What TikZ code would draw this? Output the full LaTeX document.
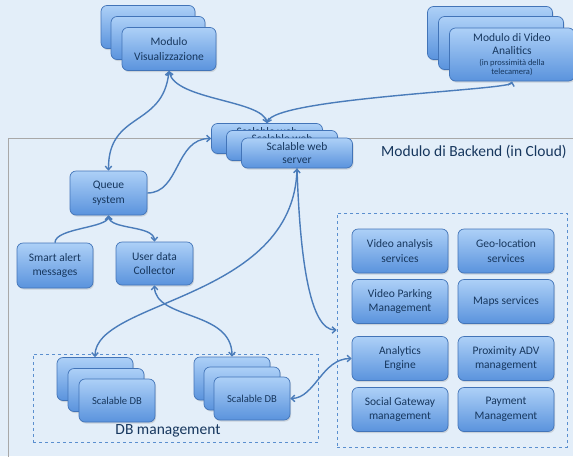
\documentclass[tikz,border=0pt]{standalone}
\usepackage{fontspec}
\setmainfont{Carlito}
\usetikzlibrary{arrows.meta,shadows}
\definecolor{bg}{HTML}{E3EEF9}
\definecolor{btop}{HTML}{ADD0F7}
\definecolor{bbot}{HTML}{5A93DD}
\definecolor{bord}{HTML}{4274B8}
\definecolor{navy}{HTML}{17375E}
\definecolor{conn}{HTML}{4A7CBA}
\definecolor{dashc}{HTML}{5B8FCF}
\definecolor{frame}{HTML}{A8A8A8}
\tikzset{
  box/.style={draw=bord, line width=0.7pt, rounded corners=6pt, top color=btop, bottom color=bbot,
    text=navy, align=center, font=\fontsize{11.5}{14.5}\selectfont, inner sep=1pt,
    drop shadow={opacity=0.25, shadow xshift=1pt, shadow yshift=-1.5pt}},
  vis/.style={box, minimum width=94pt, minimum height=43pt},
  va/.style={box, minimum width=125pt, minimum height=53pt},
  ws/.style={box, minimum width=111pt, minimum height=30pt, font=\fontsize{11.5}{13}\selectfont},
  small/.style={box, minimum width=77pt, minimum height=44pt},
  svcbox/.style={box, minimum width=96pt, minimum height=44pt},
  dbbox/.style={box, minimum width=76pt, minimum height=43pt, font=\fontsize{10.6}{12}\selectfont},
  dashbox/.style={draw=dashc, dashed, line width=0.7pt, inner sep=0pt},
  link/.style={draw=conn, line width=1.4pt, {Straight Barb[length=3.5pt,width=6.5pt]}-{Straight Barb[length=3.5pt,width=6.5pt]}},
  linkto/.style={draw=conn, line width=1.4pt, -{Straight Barb[length=3.5pt,width=6.5pt]}},
  biglabel/.style={text=navy, font=\fontsize{15.5}{18}\selectfont, inner sep=0pt}
}
\begin{document}
\begin{tikzpicture}[x=1pt,y=-1pt]
\useasboundingbox (0,0) rectangle (573,456);
\fill[bg] (0,0) rectangle (573,456);
% backend frame
\draw[frame, line width=0.7pt] (8,460) -- (8,138) -- (576,138);
\node[biglabel, anchor=west] (backlbl) at (381,152) {Modulo di Backend (in Cloud)};

% dashed containers
\node[dashbox, minimum width=230pt, minimum height=234pt] (svc) at (452,330) {};
\node[dashbox, minimum width=285pt, minimum height=88pt] (dbm) at (175.5,398) {};
\node[biglabel] (dblbl) at (168,431) {DB management};

% Modulo Visualizzazione stack
\node[vis] (vis1) at (148,27) {};
\node[vis] (vis2) at (158,38) {};
\node[vis] (vis3) at (169,49) {Modulo\\Visualizzazione};

% Video analitics stack
\node[va] (va1) at (490,33) {};
\node[va] (va2) at (501,43) {};
\node[va, font=\fontsize{11.5}{13.5}\selectfont] (va3) at (512,54.5) {Modulo di Video\\Analitics\\[-3pt]{\fontsize{8.5}{10}\selectfont (in prossimità della}\\[-4pt]{\fontsize{8.5}{10}\selectfont telecamera)}};

% Web server stack
\node[ws] (ws1) at (267,138.5) {Scalable web\\\phantom{server}};
\node[ws] (ws2) at (282,145.5) {Scalable web\\\phantom{server}};
\node[ws] (ws3) at (297,153) {Scalable web\\server};

% Queue etc
\node[small] (queue) at (108.5,193) {Queue\\system};
\node[small, minimum width=76pt, minimum height=45pt] (smart) at (55,265.5) {Smart alert\\messages};
\node[small, minimum height=43pt] (user) at (154.5,263.5) {User data\\Collector};

% services
\node[svcbox] (vas) at (400,251) {Video analysis\\services};
\node[svcbox] (geo) at (506,251) {Geo-location\\services};
\node[svcbox] (vpm) at (400,301.5) {Video Parking\\Management};
\node[svcbox] (maps) at (506,301.5) {Maps services};
\node[svcbox] (ana) at (400,358.5) {Analytics\\Engine};
\node[svcbox] (prox) at (506,358.5) {Proximity ADV\\management};
\node[svcbox] (soc) at (400,409.5) {Social Gateway\\management};
\node[svcbox] (pay) at (506,409.5) {Payment\\Management};

% DB stacks
\node[dbbox] (db1a) at (95,379) {};
\node[dbbox] (db1b) at (106,390) {};
\node[dbbox] (db1c) at (117,400.5) {Scalable DB};
\node[dbbox] (db2a) at (232,378.5) {};
\node[dbbox] (db2b) at (242,388.5) {};
\node[dbbox] (db2c) at (252,398.5) {Scalable DB};

% connectors
\draw[link] (vis3.south) .. controls (163,128) and (108,111) .. (queue.north);
\draw[link] (vis3.south) .. controls (175,100) and (262,100) .. (ws1.north);
\draw[link] (ws1.north) .. controls (275,98) and (510,90) .. (va3.south);
\draw[linkto] (queue.east) .. controls (180,193) and (175,138.5) .. (ws1.west);
\draw[linkto] (smart.north) .. controls (55,228) and (108,228) .. (queue.south);
\draw[link] (queue.south) .. controls (110,230) and (154,225) .. (user.north);
\draw[link] (ws3.south) .. controls (293,300) and (95,300) .. (db1a.north);
\draw[linkto] (ws3.south) .. controls (300,260) and (310,330) .. (svc.west);
\draw[link] (user.south) .. controls (155,320) and (232,310) .. (db2a.north);
\draw[link] (db2c.east) .. controls (315,398) and (322,358.5) .. (ana.west);
\end{tikzpicture}
\end{document}
